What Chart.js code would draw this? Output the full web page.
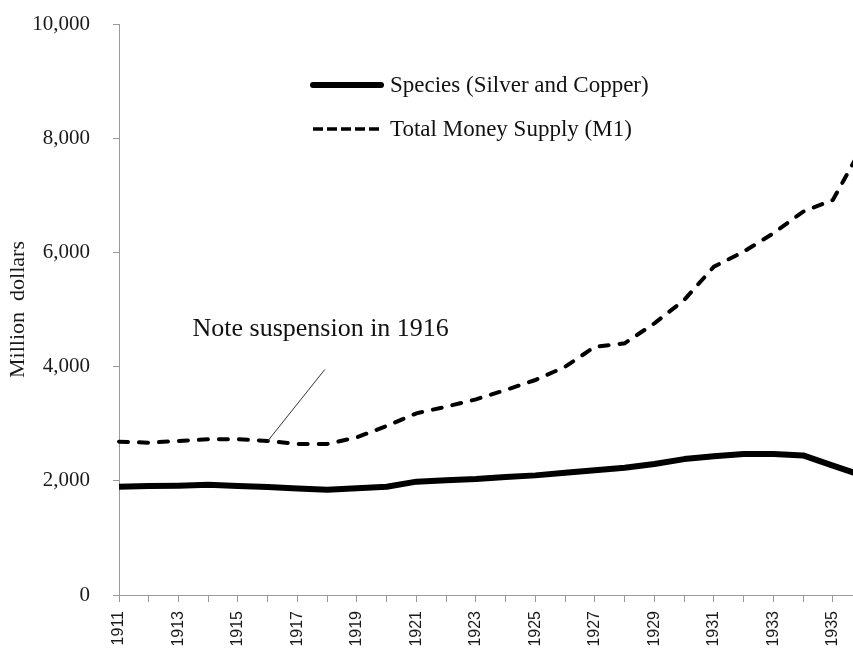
<!DOCTYPE html>
<html>
<head>
<meta charset="utf-8">
<script src="https://cdn.jsdelivr.net/npm/chart.js@4.4.1/dist/chart.umd.min.js"></script>
<style>
  html, body { margin: 0; padding: 0; background: #ffffff; overflow: hidden; }
  #chart { display: block; }
</style>
</head>
<body>
<canvas id="chart" width="870" height="655" style="width:870px;height:655px"></canvas>
<script>
// Data (million dollars)
const years = ["1911", "1912", "1913", "1914", "1915", "1916", "1917", "1918", "1919", "1920",
  "1921", "1922", "1923", "1924", "1925", "1926", "1927", "1928", "1929", "1930",
  "1931", "1932", "1933", "1934", "1935", "1936"];
const species = [1895, 1910, 1915, 1930, 1910, 1890, 1865, 1845, 1870, 1895,
  1985, 2010, 2030, 2065, 2095, 2140, 2185, 2230, 2295, 2380,
  2430, 2470, 2470, 2445, 2265, 2090];
const moneySupply = [2685, 2668, 2697, 2727, 2727, 2697, 2645, 2645, 2762, 2960,
  3182, 3298, 3427, 3590, 3765, 3998, 4348, 4408, 4758, 5166,
  5750, 6012, 6334, 6713, 6918, 7860];
const seriesNames = ["Species (Silver and Copper)", "Total Money Supply (M1)"];
const yMin = 0, yMax = 10000, yStep = 2000;

// Annotation anchored in data units (category index, value)
const noteText = "Note suspension in 1916";
const noteYear = "1916";
const noteLabelAt = { x: 2.47, y: 4536 };
const noteLineTop = { x: 6.92, y: 3950 };

const serif = "'Liberation Serif', 'Times New Roman', serif";
const sans = "'Liberation Sans', Arial, sans-serif";
const axisGray = "#9a9a9a";

// Legend + annotation drawn on top of the chart
const overlay = {
  id: "overlay",
  afterDraw(chart) {
    const ctx = chart.ctx;
    const x = chart.scales.x, y = chart.scales.y;
    const area = chart.chartArea;

    // annotation leader line
    const i = years.indexOf(noteYear);
    ctx.save();
    ctx.strokeStyle = "#333333";
    ctx.lineWidth = 1;
    ctx.beginPath();
    ctx.moveTo(x.getPixelForValue(i), y.getPixelForValue(moneySupply[i]));
    ctx.lineTo(x.getPixelForValue(noteLineTop.x), y.getPixelForValue(noteLineTop.y));
    ctx.stroke();

    ctx.fillStyle = "#111111";
    ctx.font = "26px " + serif;
    ctx.textBaseline = "alphabetic";
    ctx.textAlign = "left";
    ctx.fillText(noteText, x.getPixelForValue(noteLabelAt.x), y.getPixelForValue(noteLabelAt.y));

    // legend
    const lx = area.left + 194, tx = area.left + 271;
    const rows = [area.top + 61, area.top + 105];
    chart.data.datasets.forEach((ds, k) => {
      ctx.beginPath();
      ctx.strokeStyle = "#000000";
      ctx.lineWidth = k === 0 ? 6 : 3.5;
      ctx.lineCap = k === 0 ? "round" : "butt";
      ctx.setLineDash(k === 0 ? [] : [10, 4]);
      ctx.moveTo(lx, rows[k]);
      ctx.lineTo(lx + 68, rows[k]);
      ctx.stroke();
      ctx.setLineDash([]);
      ctx.font = "23px " + serif;
      ctx.textBaseline = "middle";
      ctx.fillStyle = "#111111";
      ctx.fillText(ds.label, tx, rows[k] + 1);
    });
    ctx.restore();
  }
};

new Chart(document.getElementById("chart"), {
  type: "line",
  data: {
    labels: years,
    datasets: [
      {
        label: seriesNames[0],
        data: species,
        borderColor: "#000000",
        borderWidth: 6,
        borderJoinStyle: "round",
        pointRadius: 0,
        tension: 0
      },
      {
        label: seriesNames[1],
        data: moneySupply,
        borderColor: "#000000",
        borderWidth: 4,
        borderDash: [9, 11],
        borderCapStyle: "round",
        pointRadius: 0,
        tension: 0
      }
    ]
  },
  options: {
    responsive: false,
    animation: false,
    layout: { padding: { top: 24, right: 7.4, left: 0, bottom: 0 } },
    plugins: {
      legend: { display: false },
      tooltip: { enabled: false }
    },
    scales: {
      x: {
        offset: false,
        afterFit: s => { s.height = 60; s.paddingLeft = 0; s.paddingRight = 0; },
        grid: { drawOnChartArea: false, drawTicks: true, tickLength: 7, color: axisGray },
        border: { display: true, color: axisGray, width: 1 },
        ticks: {
          autoSkip: false,
          minRotation: 90,
          maxRotation: 90,
          padding: 9,
          color: "#1a1a1a",
          font: { family: sans, size: 16 },
          callback: function (value, index) {
            return index % 2 === 0 ? this.getLabelForValue(value) : "";
          }
        }
      },
      y: {
        min: yMin,
        max: yMax,
        afterFit: s => { s.width = 119; s.paddingTop = 0; s.paddingBottom = 0; },
        grid: { drawOnChartArea: false, drawTicks: true, tickLength: 6, color: axisGray },
        border: { display: true, color: axisGray, width: 1 },
        ticks: {
          stepSize: yStep,
          padding: 23,
          color: "#1a1a1a",
          font: { family: serif, size: 21 },
          callback: v => v.toLocaleString("en-US")
        },
        title: {
          display: true,
          text: "Million  dollars",
          color: "#1a1a1a",
          font: { family: serif, size: 22 },
          padding: { top: 5, bottom: 0 }
        }
      }
    }
  },
  plugins: [overlay]
});
</script>
</body>
</html>
